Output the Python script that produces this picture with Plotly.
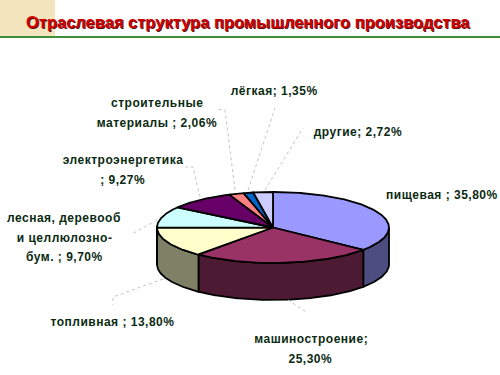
import numpy as np
import plotly.graph_objects as go

categories = ["пищевая", "машиностроение", "топливная", "лесная, деревообрабатывающая и целлюлозно-бумажная",
              "электроэнергетика", "строительные материалы", "лёгкая", "другие"]
shares = [35.80, 25.30, 13.80, 9.70, 9.27, 2.06, 1.35, 2.72]
top_colors = ["#9999FF", "#993366", "#FFFFCC", "#CCFFFF", "#660066", "#FF8080", "#0066CC", "#CCCCFF"]
side_colors = ["#4D4D80", "#4D1A33", "#808066", "#668080", "#330033", "#804040", "#003366", "#666680"]
label_lines = [["пищевая ; 35,80%"], ["машиностроение;", "25,30%"], ["топливная ; 13,80%"],
               ["лесная, деревооб", "и целлюлозно-", "бум. ; 9,70%"], ["электроэнергетика", "; 9,27%"],
               ["строительные", "материалы ; 2,06%"], ["лёгкая; 1,35%"], ["другие; 2,72%"]]
label_xy = [(442, 195), (310.5, 339), (112, 322), (64, 218), (123, 160), (157, 103), (274.5, 91), (358, 132)]
leaders = [None, [(288, 300), (308, 313)], [(163, 279), (113, 297), (113, 305)], [(157, 220), (132, 234)],
           [(200, 197), (193, 167), (185, 167)], [(235, 190), (225, 110), (217, 109)],
           [(248, 190), (275, 108)], [(265, 190), (303, 128)]]

CX, CY, RX, RY, DEPTH = 273, 227.5, 116, 35.5, 37
LINE_STEP = 19.5

def rim(a0, a1, dy=0):
    t = np.radians(np.linspace(a0, a1, max(int(abs(a1 - a0)) * 2, 2)))
    return CX + RX * np.sin(t), CY + dy - RY * np.cos(t)

fig = go.Figure()
edges = np.concatenate([[0], np.cumsum(shares) * 3.6])

for i in range(len(shares)):
    a0, a1 = max(edges[i], 90), min(edges[i + 1], 270)
    if a1 <= a0:
        continue
    xt, yt = rim(a0, a1)
    xb, yb = rim(a1, a0, DEPTH)
    fig.add_trace(go.Scatter(x=np.r_[xt, xb, xt[0]], y=np.r_[yt, yb, yt[0]], mode="lines", fill="toself",
                             fillcolor=side_colors[i], line=dict(color="black", width=1.8),
                             hoverinfo="skip", showlegend=False))
for i, name in enumerate(categories):
    xt, yt = rim(edges[i], edges[i + 1])
    fig.add_trace(go.Scatter(x=np.r_[CX, xt, CX], y=np.r_[CY, yt, CY], mode="lines", fill="toself", name=name,
                             fillcolor=top_colors[i], line=dict(color="black", width=1.8), showlegend=False))
for pts in leaders:
    if pts:
        fig.add_trace(go.Scatter(x=[p[0] for p in pts], y=[p[1] for p in pts], mode="lines",
                                 line=dict(color="#c4c4c4", width=1, dash="dot"),
                                 hoverinfo="skip", showlegend=False))
for lines, (x, y) in zip(label_lines, label_xy):
    for k, line in enumerate(lines):
        fig.add_annotation(x=x, y=y + k * LINE_STEP, text=f"<b>{line}</b>", showarrow=False,
                           font=dict(family="Liberation Sans", size=12, color="#0b2a12"), xref="x", yref="y")

fig.add_shape(type="rect", x0=0, x1=55, y0=0, y1=36, fillcolor="#F3E4BE", line_width=0, layer="below")
fig.add_shape(type="line", x0=0, x1=500, y0=37, y1=37, line=dict(color="#3F8F3A", width=2), layer="below")
title = "Отраслевая структура промышленного производства"
fig.add_annotation(x=248.7, y=23, text=f"<b>{title}</b>", showarrow=False,
                   font=dict(family="Liberation Sans", size=16.5, color="#5a1010"))
fig.add_annotation(x=248, y=22, text=f"<b>{title}</b>", showarrow=False,
                   font=dict(family="Liberation Sans", size=16.5, color="#D00000"))

fig.update_layout(width=500, height=375, margin=dict(l=0, r=0, t=0, b=0), paper_bgcolor="white",
                  plot_bgcolor="white",
                  xaxis=dict(range=[0, 500], visible=False, fixedrange=True),
                  yaxis=dict(range=[375, 0], visible=False, fixedrange=True))
fig.write_html("out.html", config={"displayModeBar": False},
               post_script="""document.body.style.margin='0';document.body.style.overflow='hidden';
document.querySelectorAll('.annotation-text').forEach(function(t){
  if(t.textContent.indexOf('Отраслевая')<0){t.style.letterSpacing='0.5px';}
});""")
